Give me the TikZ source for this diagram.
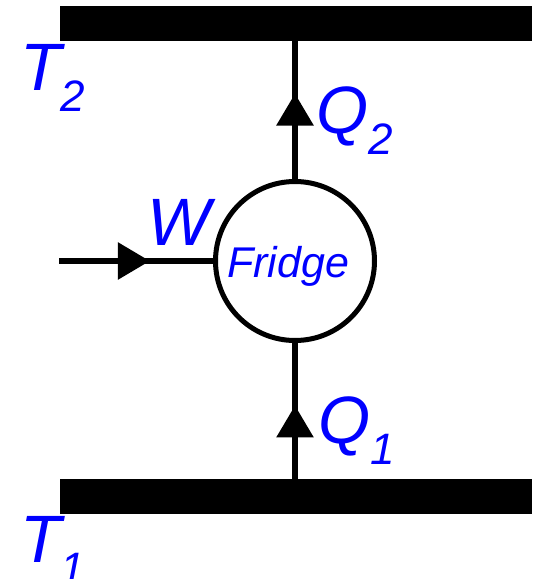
\documentclass[tikz,border=0pt]{standalone}
\usepackage{fontspec}
\setmainfont{Liberation Sans}
\usepackage{xcolor}
\usetikzlibrary{arrows.meta,positioning,decorations.markings}
\definecolor{label}{HTML}{0000FF}
\tikzset{reservoir/.style={fill=black,draw=none,minimum width=472pt,minimum height=35pt,inner sep=0pt},fridgebox/.style={circle,draw=black,line width=5pt,minimum size=159pt,inner sep=0pt},flow/.style={draw=black,line width=6pt,postaction={decorate},decoration={markings,mark=at position #1 with {\arrow{Triangle[length=32pt,width=36pt]}}}},sym/.style={text=label,font=\fontsize{67}{67}\selectfont\itshape,inner sep=0pt,anchor=base west}}
\newcommand\lowsub[1]{\raisebox{-21pt}{\fontsize{44}{44}\selectfont #1}}

\begin{document}
\begin{tikzpicture}[x=1pt,y=-1pt]
 \useasboundingbox (0,0) rectangle (539,579);
 \node[reservoir] (hot) at (296,23.5) {}; \node[reservoir] (cold) at (296,496.5) {};
 \node[fridgebox] (fridge) at (295,261) {};
 \coordinate (wsrc) at (59,261);
 \draw[flow=0.54] (cold.north -| fridge.south) -- (fridge.south);
 \draw[flow=0.62] (fridge.north) -- (hot.south -| fridge.north);
 \draw[flow=0.59] (wsrc) -- (fridge.west);
 \node[sym] (t2) at (20,90) {T\kern-1pt\lowsub{2}}; \node[sym] (t1) at (20,562) {T\kern-1pt\lowsub{1}};
 \node[sym] (q2) at (316,133) {Q\lowsub{2}}; \node[sym] (q1) at (318,443) {Q\lowsub{1}};
 \node[sym] (w) at (147,245) {W};
 \node[text=label,font=\fontsize{43}{43}\selectfont\itshape,inner sep=0pt,anchor=base] (fridgetext) at (288,277) {Fridge};
\end{tikzpicture}
\end{document}
